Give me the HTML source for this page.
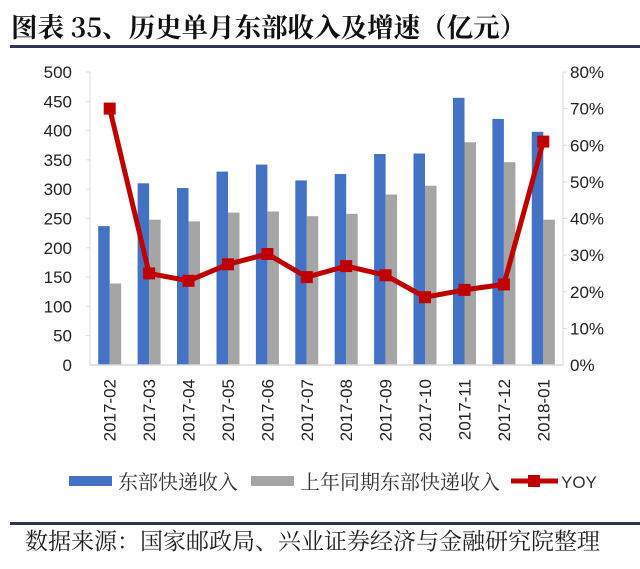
<!DOCTYPE html>
<html><head><meta charset="utf-8"><style>
body{margin:0;background:#fff;width:640px;height:569px;overflow:hidden}
svg{display:block}
</style></head><body>
<svg width="640" height="569" xmlns="http://www.w3.org/2000/svg">
<text x="11" y="37" font-family="'Noto Serif CJK SC','Liberation Serif',serif" font-size="26.5" font-weight="bold" fill="#111">图表 35、历史单月东部收入及增速（亿元）</text>
<rect x="10" y="45" width="630" height="3" fill="#2f3654"/>
<g font-family="'Liberation Sans',sans-serif" font-size="17" fill="#222" text-anchor="end">
<text x="72" y="371">0</text><text x="72" y="341.7">50</text><text x="72" y="312.4">100</text><text x="72" y="283.1">150</text><text x="72" y="253.8">200</text><text x="72" y="224.5">250</text><text x="72" y="195.2">300</text><text x="72" y="165.9">350</text><text x="72" y="136.6">400</text><text x="72" y="107.3">450</text><text x="72" y="78">500</text>
</g>
<g font-family="'Liberation Sans',sans-serif" font-size="17" fill="#222">
<text x="570" y="371">0%</text><text x="570" y="334.4">10%</text><text x="570" y="297.75">20%</text><text x="570" y="261.1">30%</text><text x="570" y="224.5">40%</text><text x="570" y="187.9">50%</text><text x="570" y="151.25">60%</text><text x="570" y="114.6">70%</text><text x="570" y="78">80%</text>
</g>
<g stroke="#d9d9d9" stroke-width="1">
<line x1="90" y1="72" x2="90" y2="365"/><line x1="563" y1="72" x2="563" y2="365"/>
<line x1="86" x2="90" y1="72" y2="72"/><line x1="86" x2="90" y1="101.3" y2="101.3"/><line x1="86" x2="90" y1="130.6" y2="130.6"/><line x1="86" x2="90" y1="159.9" y2="159.9"/><line x1="86" x2="90" y1="189.2" y2="189.2"/><line x1="86" x2="90" y1="218.5" y2="218.5"/><line x1="86" x2="90" y1="247.8" y2="247.8"/><line x1="86" x2="90" y1="277.1" y2="277.1"/><line x1="86" x2="90" y1="306.4" y2="306.4"/><line x1="86" x2="90" y1="335.7" y2="335.7"/>
<line x1="563" x2="567" y1="72" y2="72"/><line x1="563" x2="567" y1="108.6" y2="108.6"/><line x1="563" x2="567" y1="145.25" y2="145.25"/><line x1="563" x2="567" y1="181.9" y2="181.9"/><line x1="563" x2="567" y1="218.5" y2="218.5"/><line x1="563" x2="567" y1="255.1" y2="255.1"/><line x1="563" x2="567" y1="291.75" y2="291.75"/><line x1="563" x2="567" y1="328.4" y2="328.4"/>
</g>
<g fill="#4472c4">
<rect x="98.2" y="226.1" width="11.5" height="138.9"/>
<rect x="137.6" y="183.3" width="11.5" height="181.7"/>
<rect x="177.0" y="188.0" width="11.5" height="177.0"/>
<rect x="216.5" y="171.6" width="11.5" height="193.4"/>
<rect x="255.9" y="164.6" width="11.5" height="200.4"/>
<rect x="295.3" y="180.4" width="11.5" height="184.6"/>
<rect x="334.7" y="174.0" width="11.5" height="191.0"/>
<rect x="374.1" y="154.0" width="11.5" height="211.0"/>
<rect x="413.5" y="153.5" width="11.5" height="211.5"/>
<rect x="453.0" y="97.8" width="11.5" height="267.2"/>
<rect x="492.4" y="118.9" width="11.5" height="246.1"/>
<rect x="531.8" y="131.8" width="11.5" height="233.2"/>
</g>
<g fill="#a5a5a5">
<rect x="109.7" y="283.5" width="11.5" height="81.5"/>
<rect x="149.1" y="219.7" width="11.5" height="145.3"/>
<rect x="188.5" y="221.4" width="11.5" height="143.6"/>
<rect x="228.0" y="212.6" width="11.5" height="152.4"/>
<rect x="267.4" y="211.5" width="11.5" height="153.5"/>
<rect x="306.8" y="216.2" width="11.5" height="148.8"/>
<rect x="346.2" y="213.8" width="11.5" height="151.2"/>
<rect x="385.6" y="194.5" width="11.5" height="170.5"/>
<rect x="425.0" y="185.7" width="11.5" height="179.3"/>
<rect x="464.5" y="142.3" width="11.5" height="222.7"/>
<rect x="503.9" y="162.2" width="11.5" height="202.8"/>
<rect x="543.3" y="219.7" width="11.5" height="145.3"/>
</g>
<line x1="90" y1="365" x2="563" y2="365" stroke="#d9d9d9" stroke-width="1.5"/>
<polyline points="109.7,108.6 149.1,273.4 188.5,280.8 228.0,264.3 267.4,254.0 306.8,277.1 346.2,266.1 385.6,275.3 425.0,297.2 464.5,289.9 503.9,284.4 543.3,141.6" fill="none" stroke="#c00000" stroke-width="5" stroke-linejoin="round"/>
<g fill="#c00000">
<rect x="103.7" y="102.6" width="12" height="12"/>
<rect x="143.1" y="267.4" width="12" height="12"/>
<rect x="182.5" y="274.8" width="12" height="12"/>
<rect x="222.0" y="258.3" width="12" height="12"/>
<rect x="261.4" y="248.0" width="12" height="12"/>
<rect x="300.8" y="271.1" width="12" height="12"/>
<rect x="340.2" y="260.1" width="12" height="12"/>
<rect x="379.6" y="269.3" width="12" height="12"/>
<rect x="419.0" y="291.2" width="12" height="12"/>
<rect x="458.5" y="283.9" width="12" height="12"/>
<rect x="497.9" y="278.4" width="12" height="12"/>
<rect x="537.3" y="135.6" width="12" height="12"/>
</g>
<g font-family="'Liberation Sans',sans-serif" font-size="17" fill="#222" text-anchor="end">
<text transform="translate(115.7,379) rotate(-90)">2017-02</text>
<text transform="translate(155.1,379) rotate(-90)">2017-03</text>
<text transform="translate(194.5,379) rotate(-90)">2017-04</text>
<text transform="translate(234.0,379) rotate(-90)">2017-05</text>
<text transform="translate(273.4,379) rotate(-90)">2017-06</text>
<text transform="translate(312.8,379) rotate(-90)">2017-07</text>
<text transform="translate(352.2,379) rotate(-90)">2017-08</text>
<text transform="translate(391.6,379) rotate(-90)">2017-09</text>
<text transform="translate(431.0,379) rotate(-90)">2017-10</text>
<text transform="translate(470.5,379) rotate(-90)">2017-11</text>
<text transform="translate(509.9,379) rotate(-90)">2017-12</text>
<text transform="translate(549.3,379) rotate(-90)">2018-01</text>
</g>
<rect x="69" y="476" width="43" height="10" fill="#4472c4"/>
<text x="118" y="489" font-family="'Noto Serif CJK SC',serif" font-size="20" fill="#333">东部快递收入</text>
<rect x="251" y="476" width="43" height="10" fill="#a5a5a5"/>
<text x="300" y="489" font-family="'Noto Serif CJK SC',serif" font-size="20" fill="#333">上年同期东部快递收入</text>
<line x1="511" y1="481" x2="558" y2="481" stroke="#c00000" stroke-width="5"/>
<rect x="528" y="475" width="12" height="12" fill="#c00000"/>
<text x="561" y="488" font-family="'Liberation Sans',sans-serif" font-size="17" fill="#333">YOY</text>
<rect x="10" y="522" width="630" height="3" fill="#2f3654"/>
<text x="25" y="549" font-family="'Noto Serif CJK SC',serif" font-size="23" fill="#222">数据来源：国家邮政局、兴业证券经济与金融研究院整理</text>
</svg>
</body></html>
